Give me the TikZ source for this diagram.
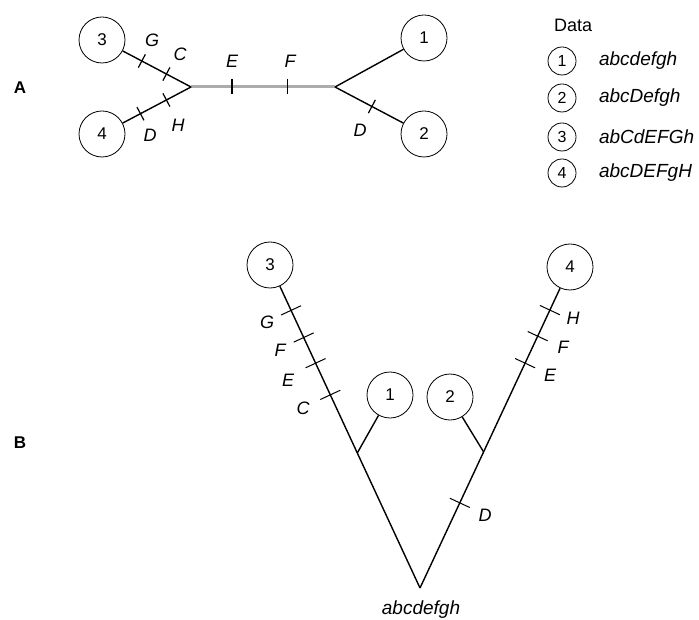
\documentclass[tikz,border=0pt]{standalone}
\usepackage{fontspec}
\setmainfont{Liberation Sans}
\usetikzlibrary{calc}

\newcommand{\mutA}{\rule[-3.75pt]{0.6pt}{7.5pt}}
\newcommand{\mutB}{\rule[-5.5pt]{0.5pt}{11pt}}

\begin{document}
\begin{tikzpicture}[x=0.5pt, y=-0.5pt,
    taxon/.style={draw, circle, minimum size=23pt, inner sep=0pt, font=\fontsize{8.5}{10}\selectfont},
    datataxon/.style={draw, circle, minimum size=14pt, inner sep=0pt, font=\fontsize{8}{9}\selectfont},
    branch/.style={line width=0.7pt},
    mutbar/.style={sloped, pos=#1, inner sep=0pt, outer sep=0pt, text=black},
    mutlabel/.style={font=\fontsize{9}{11}\selectfont\itshape},
    seqlabel/.style={font=\fontsize{9.5}{11}\selectfont\itshape},
    panellabel/.style={font=\fontsize{8.5}{10}\selectfont\bfseries}
]
    \useasboundingbox (0,0) rectangle (699,619);

    % Unrooted tree
    \node[panellabel] (panelA) at (20,88) {A};
    \node[taxon] (c3) at (102,40) {3};
    \node[taxon] (c4) at (102,134) {4};
    \node[taxon] (c1) at (424,38) {1};
    \node[taxon] (c2) at (424,134) {2};
    \coordinate (jL) at (191,87);
    \coordinate (jR) at (335,87);

    \draw[line width=1.5pt, gray!65] (jL) -- (jR)
        node[mutbar=0.285] {\mutA} node[mutbar=0.67] {\mutA};
    \draw[branch] (jL) -- (c3) node[mutbar=0.36] {\mutA} node[mutbar=0.72] {\mutA};
    \draw[branch] (jL) -- (c4) node[mutbar=0.36] {\mutA} node[mutbar=0.74] {\mutA};
    \draw[branch] (jR) -- (c1);
    \draw[branch] (jR) -- (c2) node[mutbar=0.54] {\mutA};

    \node[mutlabel] (aG) at (152,40) {G};
    \node[mutlabel] (aC) at (180,54) {C};
    \node[mutlabel] (aE) at (232,61) {E};
    \node[mutlabel] (aF) at (290,61) {F};
    \node[mutlabel] (aD) at (150,135) {D};
    \node[mutlabel] (aH) at (178,125) {H};
    \node[mutlabel] (aD2) at (360,130) {D};

    % Data panel
    \node[anchor=west, font=\fontsize{9}{11}\selectfont] (datahead) at (547,25) {Data};
    \node[datataxon] (d1) at (562,61) {1};
    \node[datataxon] (d2) at (562,98) {2};
    \node[datataxon] (d3) at (562,137) {3};
    \node[datataxon] (d4) at (562,173) {4};
    \node[seqlabel, anchor=west] (s1) at (592,61) {abcdefgh};
    \node[seqlabel, anchor=west] (s2) at (592,98) {abcDefgh};
    \node[seqlabel, anchor=west] (s3) at (592,137) {abCdEFGh};
    \node[seqlabel, anchor=west] (s4) at (592,173) {abcDEFgH};

    % Rooted tree
    \node[panellabel] (panelB) at (20,443) {B};
    \node[taxon] (b3) at (270,265) {3};
    \node[taxon] (b4) at (570,267) {4};
    \node[taxon] (b1) at (390,395) {1};
    \node[taxon] (b2) at (450,397) {2};
    \coordinate (root) at (420,588);
    \coordinate (k1) at ($(root)!0.418!(b3)$);
    \coordinate (k2) at ($(root)!0.424!(b4)$);

    \draw[branch] (root) -- (b3) node[mutbar=0.64] {\mutB} node[mutbar=0.745] {\mutB}
        node[mutbar=0.83] {\mutB} node[mutbar=0.92] {\mutB};
    \draw[branch] (root) -- (b4) node[mutbar=0.284] {\mutB} node[mutbar=0.75] {\mutB}
        node[mutbar=0.84] {\mutB} node[mutbar=0.927] {\mutB};
    \draw[branch] (k1) -- (b1);
    \draw[branch] (k2) -- (b2);

    \node[mutlabel] (bG) at (267,322) {G};
    \node[mutlabel] (bF) at (280,350) {F};
    \node[mutlabel] (bE) at (288,380) {E};
    \node[mutlabel] (bC) at (303,408) {C};
    \node[mutlabel] (bH) at (573,318) {H};
    \node[mutlabel] (bF2) at (563,347) {F};
    \node[mutlabel] (bE2) at (550,375) {E};
    \node[mutlabel] (bD) at (485,515) {D};
    \node[seqlabel] (rootseq) at (421,610) {abcdefgh};
\end{tikzpicture}
\end{document}
